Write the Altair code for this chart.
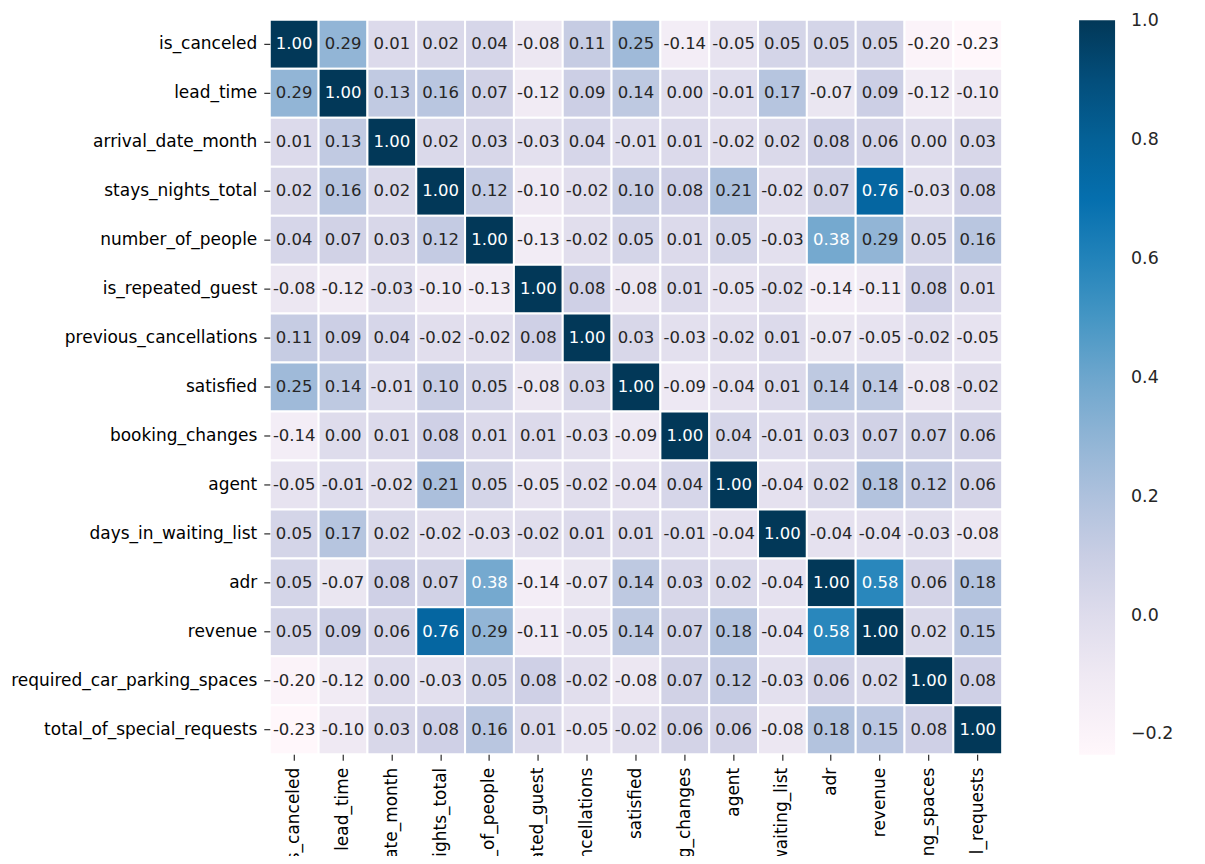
import altair as alt
import pandas as pd
import numpy as np

labels = [
    "is_canceled", "lead_time", "arrival_date_month", "stays_nights_total",
    "number_of_people", "is_repeated_guest", "previous_cancellations",
    "satisfied", "booking_changes", "agent", "days_in_waiting_list", "adr",
    "revenue", "required_car_parking_spaces", "total_of_special_requests",
]

is_canceled = [1.00, 0.29, 0.01, 0.02, 0.04, -0.08, 0.11, 0.25, -0.14, -0.05, 0.05, 0.05, 0.05, -0.20, -0.23]
lead_time = [0.29, 1.00, 0.13, 0.16, 0.07, -0.12, 0.09, 0.14, 0.00, -0.01, 0.17, -0.07, 0.09, -0.12, -0.10]
arrival_date_month = [0.01, 0.13, 1.00, 0.02, 0.03, -0.03, 0.04, -0.01, 0.01, -0.02, 0.02, 0.08, 0.06, 0.00, 0.03]
stays_nights_total = [0.02, 0.16, 0.02, 1.00, 0.12, -0.10, -0.02, 0.10, 0.08, 0.21, -0.02, 0.07, 0.76, -0.03, 0.08]
number_of_people = [0.04, 0.07, 0.03, 0.12, 1.00, -0.13, -0.02, 0.05, 0.01, 0.05, -0.03, 0.38, 0.29, 0.05, 0.16]
is_repeated_guest = [-0.08, -0.12, -0.03, -0.10, -0.13, 1.00, 0.08, -0.08, 0.01, -0.05, -0.02, -0.14, -0.11, 0.08, 0.01]
previous_cancellations = [0.11, 0.09, 0.04, -0.02, -0.02, 0.08, 1.00, 0.03, -0.03, -0.02, 0.01, -0.07, -0.05, -0.02, -0.05]
satisfied = [0.25, 0.14, -0.01, 0.10, 0.05, -0.08, 0.03, 1.00, -0.09, -0.04, 0.01, 0.14, 0.14, -0.08, -0.02]
booking_changes = [-0.14, 0.00, 0.01, 0.08, 0.01, 0.01, -0.03, -0.09, 1.00, 0.04, -0.01, 0.03, 0.07, 0.07, 0.06]
agent = [-0.05, -0.01, -0.02, 0.21, 0.05, -0.05, -0.02, -0.04, 0.04, 1.00, -0.04, 0.02, 0.18, 0.12, 0.06]
days_in_waiting_list = [0.05, 0.17, 0.02, -0.02, -0.03, -0.02, 0.01, 0.01, -0.01, -0.04, 1.00, -0.04, -0.04, -0.03, -0.08]
adr = [0.05, -0.07, 0.08, 0.07, 0.38, -0.14, -0.07, 0.14, 0.03, 0.02, -0.04, 1.00, 0.58, 0.06, 0.18]
revenue = [0.05, 0.09, 0.06, 0.76, 0.29, -0.11, -0.05, 0.14, 0.07, 0.18, -0.04, 0.58, 1.00, 0.02, 0.15]
required_car_parking_spaces = [-0.20, -0.12, 0.00, -0.03, 0.05, 0.08, -0.02, -0.08, 0.07, 0.12, -0.03, 0.06, 0.02, 1.00, 0.08]
total_of_special_requests = [-0.23, -0.10, 0.03, 0.08, 0.16, 0.01, -0.05, -0.02, 0.06, 0.06, -0.08, 0.18, 0.15, 0.08, 1.00]

rows = [
    is_canceled, lead_time, arrival_date_month, stays_nights_total,
    number_of_people, is_repeated_guest, previous_cancellations, satisfied,
    booking_changes, agent, days_in_waiting_list, adr, revenue,
    required_car_parking_spaces, total_of_special_requests,
]

colorbar_ticks = [-0.2, 0.0, 0.2, 0.4, 0.6, 0.8, 1.0]
color_min, color_max = -0.234, 1.0005
pubu = ["#fff7fb", "#ece7f2", "#d0d1e6", "#a6bddb", "#74a9cf",
        "#3690c0", "#0570b0", "#045a8d", "#023858"]
color_domain = [float(v) for v in np.linspace(color_min, color_max, len(pubu))]

records = []
for rname, rvals in zip(labels, rows):
    for cname, v in zip(labels, rvals):
        records.append({"row": rname, "col": cname, "value": v, "txt": f"{v:.2f}"})
df = pd.DataFrame(records)

FONT = "DejaVu Sans"
LABEL_SIZE = 17

base = alt.Chart(df).encode(
    x=alt.X("col:N", sort=labels, title=None,
            axis=alt.Axis(labelAngle=-90, labelFontSize=LABEL_SIZE, labelFont=FONT,
                          labelColor="#000000", tickColor="#000000", tickSize=6,
                          labelPadding=7, labelLimit=400, domain=False,
                          labelAlign="right", labelBaseline="middle")),
    y=alt.Y("row:N", sort=labels, title=None,
            axis=alt.Axis(labelFontSize=LABEL_SIZE, labelFont=FONT, labelColor="#000000",
                          tickColor="#000000", tickSize=6, labelPadding=7,
                          labelLimit=400, domain=False)),
)

rects = base.mark_rect(stroke="white", strokeWidth=2).encode(
    color=alt.Color(
        "value:Q",
        scale=alt.Scale(domain=color_domain, range=pubu, interpolate="rgb"),
        title=None,
        legend=alt.Legend(
            orient="none", legendX=810, legendY=0.5, direction="vertical",
            gradientLength=735, gradientThickness=36, gradientStrokeWidth=0,
            values=colorbar_ticks, format=".1f", labelFont=FONT,
            labelFontSize=17.4, labelColor="#262626", labelOffset=16,
            labelBaseline="middle", labelOverlap=False, padding=0,
        ),
    )
)

texts = base.mark_text(font=FONT, fontSize=16.5).encode(
    text="txt:N",
    color=alt.condition(alt.datum.value > 0.35, alt.value("white"), alt.value("#262626")),
)

chart = (rects + texts).properties(
    width=733, height=735,
    autosize=alt.AutoSizeParams(type="none"),
    padding={"left": 262, "top": 11.5, "right": 195, "bottom": 101.5},
).configure_view(stroke=None).configure_scale(bandPaddingInner=0, bandPaddingOuter=0)

chart.save("out.html", embed_options={"renderer": "svg", "actions": False})
